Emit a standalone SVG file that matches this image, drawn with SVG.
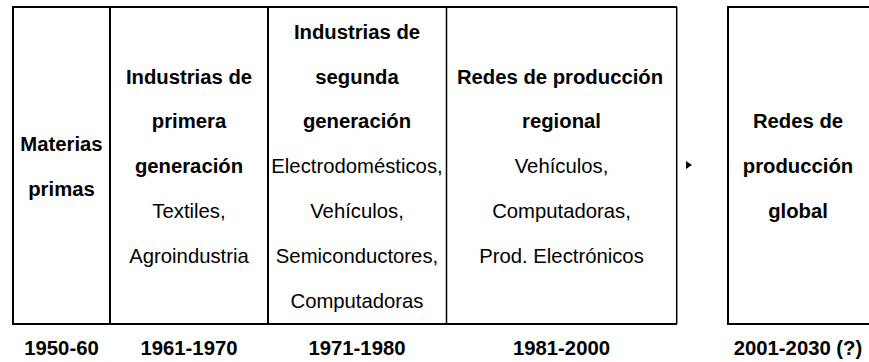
<svg xmlns="http://www.w3.org/2000/svg" width="869" height="362" viewBox="0 0 869 362">
<style>
text{font-family:"Liberation Sans",Arial,Helvetica,sans-serif;font-size:20.3px;fill:#000;text-anchor:middle}
.b{font-weight:bold}
.frame{fill:none;stroke:#000;stroke-width:2}
.div{stroke:#000;stroke-width:2}
.thin{stroke:#000;stroke-width:1.5}
</style>
<rect width="869" height="362" fill="#fff"/>
<g id="table">
<path class="frame" d="M677 7H13V324H677"/>
<line class="thin" x1="676.7" y1="7" x2="676.7" y2="324"/>
<line class="div" x1="110" y1="7" x2="110" y2="324"/>
<line class="div" x1="268" y1="7" x2="268" y2="324"/>
<line class="thin" x1="446.5" y1="7" x2="446.5" y2="324"/>
</g>
<g id="node-materias">
<text class="b" x="61.5" y="151">Materias</text>
<text class="b" x="61.5" y="196">primas</text>
</g>
<g id="node-primera">
<text class="b" x="189" y="83.5">Industrias de</text>
<text class="b" x="189" y="128.3">primera</text>
<text class="b" x="189" y="173.1">generación</text>
<text x="189" y="217.9">Textiles,</text>
<text x="189" y="262.7">Agroindustria</text>
</g>
<g id="node-segunda">
<text class="b" x="357" y="38.7">Industrias de</text>
<text class="b" x="357" y="83.5">segunda</text>
<text class="b" x="357" y="128.3">generación</text>
<text x="357" y="173.1">Electrodomésticos,</text>
<text x="357" y="217.9">Vehículos,</text>
<text x="357" y="262.7">Semiconductores,</text>
<text x="357" y="307.5">Computadoras</text>
</g>
<g id="node-regional">
<text class="b" x="560" y="83.5">Redes de producción</text>
<text class="b" x="561.5" y="128.3">regional</text>
<text x="561.5" y="173.1">Vehículos,</text>
<text x="561.5" y="217.9">Computadoras,</text>
<text x="561.5" y="262.7">Prod. Electrónicos</text>
</g>
<g id="node-global">
<rect class="frame" x="728" y="7" width="144" height="317"/>
<text class="b" x="798" y="128.3">Redes de</text>
<text class="b" x="798" y="173.1">producción</text>
<text class="b" x="798" y="217.9">global</text>
</g>
<g id="connectors">
<polygon points="686,161 692,165 686,169" fill="#000"/>
</g>
<g id="years">
<text class="b" x="61.5" y="355">1950-60</text>
<text class="b" x="189" y="355">1961-1970</text>
<text class="b" x="357" y="355">1971-1980</text>
<text class="b" x="561.5" y="355">1981-2000</text>
<text class="b" x="798" y="355">2001-2030 (?)</text>
</g>
</svg>
